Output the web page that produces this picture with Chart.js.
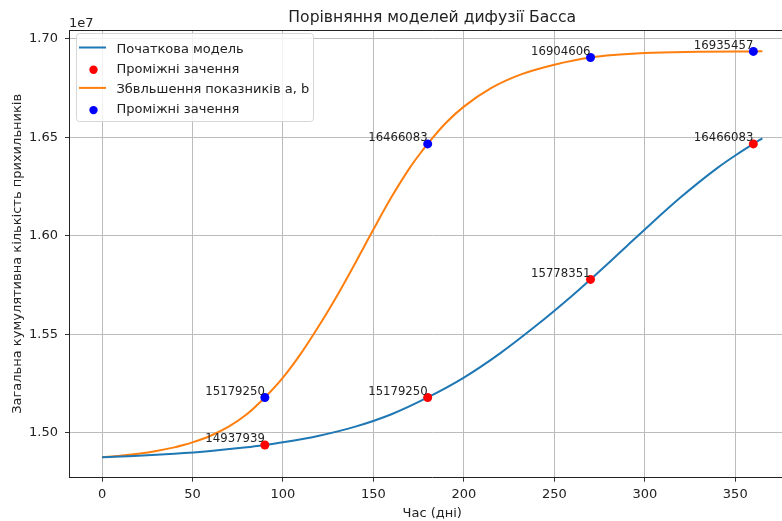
<!DOCTYPE html>
<html><head><meta charset="utf-8">
<script src="https://cdn.jsdelivr.net/npm/chart.js@4.4.0/dist/chart.umd.min.js"></script>
<style>
html,body{margin:0;padding:0;background:#fff;overflow:hidden;}
#wrap{width:782px;height:521px;overflow:hidden;position:relative;}
canvas{display:block;}
</style></head><body>
<div id="wrap"><canvas id="c" width="810" height="521" style="width:810px;height:521px"></canvas></div>
<script>
const chartTitle = 'Порівняння моделей дифузії Басса';
const xTitle = 'Час (дні)';
const yTitle = 'Загальна кумулятивна кількість прихильників';
const seriesNames = ['Початкова модель', 'Проміжні зачення', 'Збвльшення показників a, b', 'Проміжні зачення'];

const baseDays   = [0, 20, 40, 60, 80, 90, 100, 120, 140, 160, 180, 200, 220, 240, 260, 270, 280, 290, 300, 320, 340, 350, 360, 365];
const baseValues = [14876000, 14883000, 14893500, 14907500, 14926000, 14937939, 14951500, 14985000, 15031000, 15094000, 15179250, 15280000, 15403000, 15544000, 15697000, 15778351, 15862000, 15947000, 16032000, 16196000, 16343000, 16407000, 16466083, 16494000];

const fastDays   = [0, 10, 20, 30, 40, 45, 50, 60, 70, 80, 90, 100, 110, 120, 130, 135, 140, 145, 150, 160, 170, 175, 180, 190, 200, 215, 232, 250, 270, 300, 330, 360, 365];
const fastValues = [14876000, 14883000, 14893500, 14907500, 14926000, 14937939, 14951500, 14985000, 15031000, 15094000, 15179250, 15280000, 15403000, 15544000, 15697000, 15778351, 15862000, 15947000, 16032000, 16196000, 16343000, 16407000, 16466083, 16572000, 16655000, 16749000, 16820000, 16868000, 16904606, 16927000, 16933000, 16935457, 16935800];

const markDays  = [90, 180, 270, 360];
const baseMarks = [14937939, 15179250, 15778351, 16466083];
const fastMarks = [15179250, 16466083, 16904606, 16935457];

const xTicks = [0, 50, 100, 150, 200, 250, 300, 350];
const xTickLabels = ['0', '50', '100', '150', '200', '250', '300', '350'];
const yTicks = [15000000, 15500000, 16000000, 16500000, 17000000];
const yTickLabels = ['1.50', '1.55', '1.60', '1.65', '1.70'];
const yOffsetLabel = '1e7';

const colors = ['#1f77b4', '#ff0000', '#ff7f0e', '#0000ff'];
const FONT = '"DejaVu Sans", sans-serif';
const TXT = '#222222';

function pts(xs, ys) { return xs.map((x, i) => ({x: x, y: ys[i]})); }

const decor = {
  id: 'decor',
  afterDatasetsDraw(chart) {
    const ctx = chart.ctx, xs = chart.scales.x, ys = chart.scales.y;
    ctx.save();
    ctx.font = '11.7px ' + FONT;
    ctx.fillStyle = TXT;
    ctx.textAlign = 'right';
    ctx.textBaseline = 'bottom';
    [baseMarks, fastMarks].forEach(arr => arr.forEach((v, i) => {
      ctx.fillText(String(v), xs.getPixelForValue(markDays[i]), ys.getPixelForValue(v));
    }));
    ctx.restore();
  },
  afterDraw(chart) {
    const ctx = chart.ctx, a = chart.chartArea;
    ctx.save();
    ctx.strokeStyle = '#222';
    ctx.lineWidth = 1;
    ctx.beginPath();
    ctx.moveTo(a.left, a.top + 0.5);
    ctx.lineTo(a.right, a.top + 0.5);
    ctx.stroke();
    ctx.beginPath();
    ctx.moveTo(a.right - 0.5, a.top);
    ctx.lineTo(a.right - 0.5, a.bottom);
    ctx.stroke();
    ctx.fillStyle = TXT;
    ctx.font = '15.6px ' + FONT;
    ctx.textAlign = 'center';
    ctx.textBaseline = 'alphabetic';
    ctx.fillText(chartTitle, (a.left + a.right) / 2, 21.5);
    ctx.font = '13px ' + FONT;
    ctx.textAlign = 'left';
    ctx.fillText(yOffsetLabel, a.left, 26.5);
    const bx = 76.5, by = 33.5, bw = 237, bh = 88;
    ctx.beginPath();
    ctx.roundRect(bx, by, bw, bh, 3);
    ctx.fillStyle = 'rgba(255,255,255,0.8)';
    ctx.fill();
    ctx.strokeStyle = '#d6d6d6';
    ctx.lineWidth = 1;
    ctx.stroke();
    const ds = chart.data.datasets;
    ds.forEach((d, i) => {
      const ry = 48 + i * 20.2;
      if (d.showLine) {
        ctx.strokeStyle = d.borderColor;
        ctx.lineWidth = 2;
        ctx.beginPath();
        ctx.moveTo(79, ry - 0.5);
        ctx.lineTo(106, ry - 0.5);
        ctx.stroke();
      } else {
        ctx.fillStyle = d.pointBackgroundColor;
        ctx.beginPath();
        ctx.arc(93.5, ry + 1.5, 4.2, 0, Math.PI * 2);
        ctx.fill();
      }
      ctx.fillStyle = TXT;
      ctx.font = '13px ' + FONT;
      ctx.textAlign = 'left';
      ctx.textBaseline = 'alphabetic';
      ctx.fillText(d.label, 116.5, ry + 4.5);
    });
    ctx.restore();
  }
};

const tickFont = {family: FONT, size: 13};

new Chart(document.getElementById('c'), {
  type: 'scatter',
  data: {
    datasets: [
      {label: seriesNames[0], data: pts(baseDays, baseValues), showLine: true, borderColor: colors[0], borderWidth: 2, pointRadius: 0, cubicInterpolationMode: 'monotone', fill: false, order: 2},
      {label: seriesNames[1], data: pts(markDays, baseMarks), showLine: false, pointRadius: 4.5, pointBackgroundColor: colors[1], pointBorderWidth: 0, order: 1},
      {label: seriesNames[2], data: pts(fastDays, fastValues), showLine: true, borderColor: colors[2], borderWidth: 2, pointRadius: 0, cubicInterpolationMode: 'monotone', fill: false, order: 2},
      {label: seriesNames[3], data: pts(markDays, fastMarks), showLine: false, pointRadius: 4.5, pointBackgroundColor: colors[3], pointBorderWidth: 0, order: 1}
    ]
  },
  options: {
    responsive: false,
    animation: false,
    devicePixelRatio: 1,
    layout: {padding: {top: 30, right: 14.6, left: 0, bottom: 0}},
    plugins: {legend: {display: false}, title: {display: false}, tooltip: {enabled: false}},
    scales: {
      x: {
        type: 'linear', min: -18.25, max: 383.25,
        afterBuildTicks: s => { s.ticks = xTicks.map(v => ({value: v})); },
        afterFit: s => { s.height = 43.3; },
        grid: {color: '#bcbcbc', lineWidth: 1, tickLength: 4, tickColor: '#333', tickWidth: 1},
        border: {color: '#222', width: 1},
        ticks: {font: tickFont, color: TXT, padding: 5, maxRotation: 0, autoSkip: false,
                callback: v => xTickLabels[xTicks.indexOf(v)]},
        title: {display: true, text: xTitle, font: tickFont, color: TXT, padding: {top: 0, bottom: 0}}
      },
      y: {
        type: 'linear', min: 14772000, max: 17044000,
        afterBuildTicks: s => { s.ticks = yTicks.map(v => ({value: v})); },
        afterFit: s => { s.width = 69; },
        grid: {color: '#bcbcbc', lineWidth: 1, tickLength: 4, tickColor: '#333', tickWidth: 1},
        border: {color: '#222', width: 1},
        ticks: {font: tickFont, color: TXT, padding: 7, autoSkip: false,
                callback: v => yTickLabels[yTicks.indexOf(v)]},
        title: {display: true, text: yTitle, font: tickFont, color: TXT, padding: {top: 10, bottom: 0}}
      }
    }
  },
  plugins: [decor]
});
</script>
</body></html>
